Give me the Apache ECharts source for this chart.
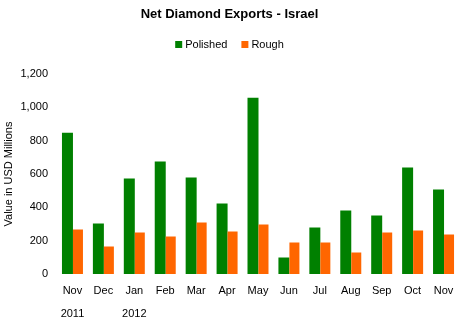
<!DOCTYPE html>
<html>
<head>
<meta charset="utf-8">
<script src="https://cdn.jsdelivr.net/npm/echarts@6/dist/echarts.min.js"></script>
<style>
  html, body { margin: 0; padding: 0; background: #fff; }
  #chart { width: 459px; height: 325px; }
</style>
</head>
<body>
<div id="chart"></div>
<script>
// Monthly net diamond exports, Israel (USD millions)
const months = ['Nov', 'Dec', 'Jan', 'Feb', 'Mar', 'Apr', 'May', 'Jun', 'Jul', 'Aug', 'Sep', 'Oct', 'Nov'];
const years = ['2011', '', '2012', '', '', '', '', '', '', '', '', '', ''];
const polished = [848, 303, 573, 675, 579, 423, 1057, 99, 279, 381, 351, 639, 507];
const rough = [267, 165, 249, 225, 309, 255, 297, 189, 189, 129, 249, 261, 237];
const yTicks = { min: 0, max: 1200, interval: 200 };

const font = '"Liberation Sans", Arial, sans-serif';
const chart = echarts.init(document.getElementById('chart'));

chart.setOption({
  animation: false,
  textStyle: { fontFamily: font },
  title: {
    text: 'Net Diamond Exports - Israel',
    left: 'center',
    top: 3,
    textStyle: { fontFamily: font, fontSize: 13, fontWeight: 'bold', color: '#000' }
  },
  legend: {
    top: 34,
    left: 'center',
    itemWidth: 7,
    itemHeight: 7,
    itemGap: 14,
    icon: 'rect',
    textStyle: { fontFamily: font, fontSize: 11, color: '#000', padding: [0, 0, 0, -2] }
  },
  grid: {
    left: 57, right: 0, top: 74, bottom: 51,
    containLabel: false,
    outerBoundsMode: 'none'
  },
  xAxis: {
    type: 'category',
    data: months,
    axisLine: { show: false },
    axisTick: { show: false },
    axisLabel: {
      interval: 0,
      margin: 5,
      color: '#000',
      fontFamily: font,
      fontSize: 11,
      lineHeight: 23,
      formatter: (v, i) => v + '\n' + (years[i] || ' ')
    }
  },
  yAxis: {
    type: 'value',
    min: yTicks.min,
    max: yTicks.max,
    interval: yTicks.interval,
    name: 'Value in USD Millions',
    nameLocation: 'middle',
    nameGap: 43,
    nameMoveOverlap: false,
    nameTextStyle: { fontFamily: font, fontSize: 11, color: '#000' },
    axisLine: { show: false },
    axisTick: { show: false },
    splitLine: { show: false },
    axisLabel: {
      color: '#000',
      fontFamily: font,
      fontSize: 11,
      margin: 9,
      formatter: v => v.toLocaleString('en-US')
    }
  },
  series: [
    {
      name: 'Polished',
      type: 'bar',
      data: polished,
      barWidth: 11,
      barGap: '0%',
      itemStyle: { color: '#008000' }
    },
    {
      name: 'Rough',
      type: 'bar',
      data: rough,
      barWidth: 10,
      barGap: '0%',
      itemStyle: { color: '#FF6600' }
    }
  ]
});
</script>
</body>
</html>
